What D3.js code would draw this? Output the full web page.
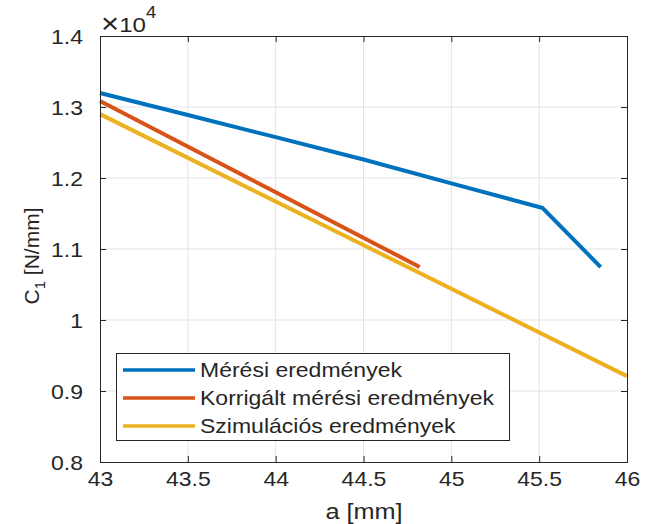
<!DOCTYPE html>
<html>
<head>
<meta charset="utf-8">
<script src="https://cdn.jsdelivr.net/npm/d3@7"></script>
<style>
  body { margin: 0; background: #fff; }
  text { font-family: "Liberation Sans", Arial, sans-serif; fill: #262626; }
</style>
</head>
<body>
<div id="chart"></div>
<script>
  // x values in mm, y values in N/mm
  var meresX = [43, 43.5, 44, 44.5, 45, 45.52, 45.85];
  var meresY = [13197, 12887, 12575, 12260, 11925, 11577, 10746];
  var korrX = [43, 44.82];
  var korrY = [13085, 10746];
  var szimX = [43, 46];
  var szimY = [12900, 9210];

  var seriesNames = ["Mérési eredmények", "Korrigált mérési eredmények", "Szimulációs eredmények"];
  var colors = ["#0072BD", "#D95319", "#EDB120"];
  var xTicks = [43, 43.5, 44, 44.5, 45, 45.5, 46];
  var yTicks = [8000, 9000, 10000, 11000, 12000, 13000, 14000];
  var stretch = 1.15;

  var width = 651, height = 524;
  var svg = d3.select('#chart').append('svg').attr('width', width).attr('height', height);

  var x = d3.scaleLinear().domain([43, 46]).range([100, 627]);
  var y = d3.scaleLinear().domain([8000, 14000]).range([462, 36]);

  // grid
  svg.append('g').selectAll('line').data(xTicks.slice(1, -1)).enter().append('line')
      .attr('x1', d => x(d)).attr('x2', d => x(d)).attr('y1', 36).attr('y2', 462)
      .attr('stroke', '#e3e3e3').attr('stroke-width', 1);
  svg.append('g').selectAll('line').data(yTicks.slice(1, -1)).enter().append('line')
      .attr('x1', 100).attr('x2', 627).attr('y1', d => y(d)).attr('y2', d => y(d))
      .attr('stroke', '#e3e3e3').attr('stroke-width', 1);

  // lines
  var line = d3.line().x(d => x(d[0])).y(d => y(d[1]));
  var data = [d3.zip(meresX, meresY), d3.zip(korrX, korrY), d3.zip(szimX, szimY)];
  data.forEach(function(s, i) {
    svg.append('path').datum(s).attr('d', line)
        .attr('fill', 'none').attr('stroke', colors[i]).attr('stroke-width', 4)
        .attr('stroke-linejoin', 'round');
  });

  // axes
  var ax = svg.append('g').attr('transform', 'translate(0,462)')
      .call(d3.axisBottom(x).tickValues(xTicks).tickSize(-6).tickPadding(10).tickFormat(d3.format('')));
  var ay = svg.append('g').attr('transform', 'translate(100,0)')
      .call(d3.axisLeft(y).tickValues(yTicks).tickSize(-6).tickPadding(11).tickFormat(d => d / 1e4));
  svg.append('g').attr('transform', 'translate(0,36)')
      .call(d3.axisTop(x).tickValues(xTicks).tickSize(-6).tickFormat(''));
  svg.append('g').attr('transform', 'translate(627,0)')
      .call(d3.axisRight(y).tickValues(yTicks).tickSize(-6).tickFormat(''));
  svg.selectAll('.domain').attr('stroke', '#262626');
  svg.selectAll('.tick line').attr('stroke', '#262626');
  ax.selectAll('text').attr('font-size', 20).attr('fill', '#262626').attr('transform', 'scale(' + stretch + ',1)')
      .attr('x', 0).attr('dy', '0.72em');
  ay.selectAll('text').attr('font-size', 20).attr('fill', '#262626').attr('dy', '0.35em')
      .attr('transform', 'scale(' + stretch + ',1)')
      .attr('x', -11 / stretch - 6 / stretch);

  // exponent
  var ex = svg.append('text').attr('transform', 'translate(101,32) scale(' + stretch + ',1)').attr('font-size', 21);
  ex.append('tspan').attr('font-size', 27).attr('dy', 1).text('×');
  ex.append('tspan').attr('dy', -1).text('10');
  ex.append('tspan').attr('font-size', 16).attr('dy', -14).text('4');

  // axis labels
  svg.append('text').attr('transform', 'translate(364,519) scale(' + stretch + ',1)')
      .attr('text-anchor', 'middle').attr('font-size', 22).text('a [mm]');
  var yl = svg.append('text').attr('transform', 'translate(39,256) rotate(-90)')
      .attr('text-anchor', 'middle').attr('font-size', 21);
  yl.append('tspan').text('C');
  yl.append('tspan').attr('font-size', 15).attr('dy', 6).text('1');
  yl.append('tspan').attr('dy', -6).text(' [N/mm]');

  // legend
  var lg = svg.append('g');
  lg.append('rect').attr('x', 116.5).attr('y', 353.5).attr('width', 393).attr('height', 87)
      .attr('fill', '#fff').attr('stroke', '#262626').attr('stroke-width', 1);
  seriesNames.forEach(function(name, i) {
    var ry = 370 + i * 28;
    lg.append('line').attr('x1', 123).attr('x2', 195).attr('y1', ry).attr('y2', ry)
        .attr('stroke', colors[i]).attr('stroke-width', 3.5);
    lg.append('text').attr('transform', 'translate(200,' + (ry + 7) + ') scale(' + stretch + ',1)')
        .attr('font-size', 20).text(name);
  });
</script>
</body>
</html>
